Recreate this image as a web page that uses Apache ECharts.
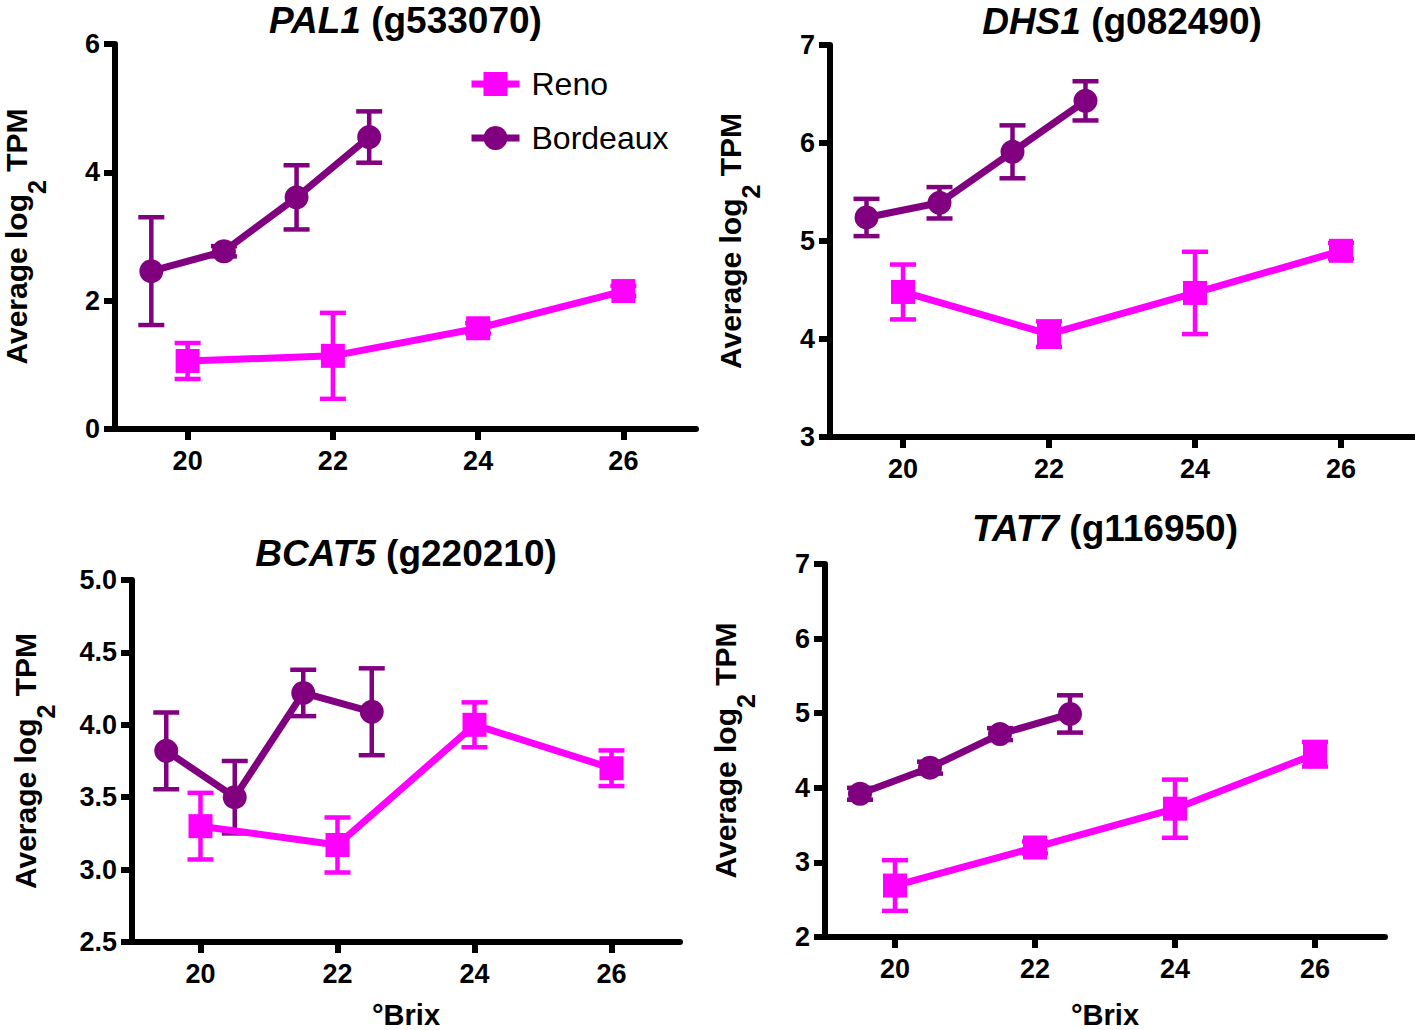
<!DOCTYPE html>
<html><head><meta charset="utf-8">
<script src="https://cdn.jsdelivr.net/npm/echarts@6/dist/echarts.min.js"></script>
<style>html,body{margin:0;padding:0;background:#fff}#c{width:1415px;height:1030px}</style>
</head><body><div id="c"></div>
<script>
const FONT = "'Liberation Sans', Arial, Helvetica, sans-serif";

// ---------- data ----------
const seriesNames = ['Reno', 'Bordeaux'];
const brixReno = [20, 22, 24, 26];
const brixBordeaux = [19.5, 20.5, 21.5, 22.5];
const xTicks = [20, 22, 24, 26];
const xName = '°Brix';
const yName = ['Average log', '2', ' TPM'];

const genes = ['PAL1', 'DHS1', 'BCAT5', 'TAT7'];
const geneIds = ['g533070', 'g082490', 'g220210', 'g116950'];

const pal1Reno = [1.06, 1.14, 1.57, 2.15];
const pal1RenoErr = [0.28, 0.67, 0.08, 0.08];
const pal1Bordeaux = [2.46, 2.77, 3.61, 4.55];
const pal1BordeauxErr = [0.84, 0.08, 0.5, 0.4];

const dhs1Reno = [4.48, 4.05, 4.47, 4.9];
const dhs1RenoErr = [0.28, 0.13, 0.42, 0.08];
const dhs1Bordeaux = [5.24, 5.39, 5.91, 6.43];
const dhs1BordeauxErr = [0.19, 0.16, 0.27, 0.2];

const bcat5Reno = [3.3, 3.17, 4.0, 3.7];
const bcat5RenoErr = [0.23, 0.19, 0.155, 0.123];
const bcat5Bordeaux = [3.82, 3.5, 4.22, 4.09];
const bcat5BordeauxErr = [0.265, 0.25, 0.16, 0.3];

const tat7Reno = [2.69, 3.2, 3.72, 4.45];
const tat7RenoErr = [0.34, 0.08, 0.39, 0.165];
const tat7Bordeaux = [3.92, 4.27, 4.72, 4.99];
const tat7BordeauxErr = [0.08, 0.08, 0.08, 0.25];

const pal1YTicks = [0, 2, 4, 6];
const dhs1YTicks = [3, 4, 5, 6, 7];
const bcat5YTicks = [2.5, 3.0, 3.5, 4.0, 4.5, 5.0];
const tat7YTicks = [2, 3, 4, 5, 6, 7];

// ---------- layout / style ----------
const RENO_COLOR = '#FF00FF';
const BORD_COLOR = '#800080';

const panels = [
  {reno: pal1Reno, renoErr: pal1RenoErr, bord: pal1Bordeaux, bordErr: pal1BordeauxErr, yTicks: pal1YTicks, dec: 0,
   left: 115, top: 44, width: 581, height: 385, titleY: 20, nameGap: 80, showX: false},
  {reno: dhs1Reno, renoErr: dhs1RenoErr, bord: dhs1Bordeaux, bordErr: dhs1BordeauxErr, yTicks: dhs1YTicks, dec: 0,
   left: 830, top: 45, width: 584, height: 392, titleY: 21, nameGap: 81, showX: false},
  {reno: bcat5Reno, renoErr: bcat5RenoErr, bord: bcat5Bordeaux, bordErr: bcat5BordeauxErr, yTicks: bcat5YTicks, dec: 1,
   left: 132, top: 580, width: 548, height: 362, titleY: 553, nameGap: 88, showX: true, xGap: 58},
  {reno: tat7Reno, renoErr: tat7RenoErr, bord: tat7Bordeaux, bordErr: tat7BordeauxErr, yTicks: tat7YTicks, dec: 0,
   left: 825, top: 564, width: 560, height: 373, titleY: 528, nameGap: 81, showX: true, xGap: 63}
];

function errRender(color) {
  return function (params, api) {
    const x = api.value(0), y = api.value(1), e = api.value(2);
    const c = api.coord([x, y]);
    const hi = api.coord([x, y + e]);
    const lo = api.coord([x, y - e]);
    const hw = 13;
    const style = {stroke: color, lineWidth: 4.5, fill: null};
    return {type: 'group', children: [
      {type: 'line', shape: {x1: c[0], y1: hi[1], x2: c[0], y2: lo[1]}, style: style},
      {type: 'line', shape: {x1: c[0] - hw, y1: hi[1], x2: c[0] + hw, y2: hi[1]}, style: style},
      {type: 'line', shape: {x1: c[0] - hw, y1: lo[1], x2: c[0] + hw, y2: lo[1]}, style: style}
    ]};
  };
}

const grid = [], xAxis = [], yAxis = [], series = [], graphic = [];
panels.forEach((p, i) => {
  grid.push({left: p.left, top: p.top, width: p.width, height: p.height, containLabel: false, outerBoundsMode: 'none'});
  xAxis.push({
    type: 'value', gridIndex: i, min: 19, max: 27, interval: 1,
    name: p.showX ? xName : '', nameLocation: 'middle', nameGap: p.xGap || 40, nameMoveOverlap: false,
    nameTextStyle: {fontFamily: FONT, fontSize: 29, fontWeight: 'bold', color: '#000'},
    axisLine: {show: true, onZero: false, lineStyle: {color: '#000', width: 6}},
    axisTick: {show: true, length: 11, lineStyle: {color: '#000', width: 6}, customValues: xTicks},
    axisLabel: {show: true, margin: 18, fontFamily: FONT, fontSize: 27, fontWeight: 'bold', color: '#000', customValues: xTicks},
    splitLine: {show: false}
  });
  const t = p.yTicks;
  yAxis.push({
    type: 'value', gridIndex: i, min: t[0], max: t[t.length - 1], interval: t[1] - t[0],
    name: '{b|' + yName[0] + '}{s|' + yName[1] + '}{b|' + yName[2] + '}',
    nameLocation: 'middle', nameGap: p.nameGap, nameRotate: 90, nameMoveOverlap: false,
    nameTextStyle: {
      fontFamily: FONT, fontSize: 30, fontWeight: 'bold', color: '#000',
      rich: {
        b: {fontFamily: FONT, fontSize: 30, fontWeight: 'bold', color: '#000', lineHeight: 34, verticalAlign: 'top'},
        s: {fontFamily: FONT, fontSize: 25, fontWeight: 'bold', color: '#000', lineHeight: 25, verticalAlign: 'top', padding: [23, 0, 0, 0]}
      }
    },
    axisLine: {show: true, onZero: false, lineStyle: {color: '#000', width: 6}},
    axisTick: {show: true, length: 11, lineStyle: {color: '#000', width: 6}},
    axisLabel: {show: true, margin: 15, fontFamily: FONT, fontSize: 27, fontWeight: 'bold', color: '#000',
      formatter: (v) => v.toFixed(p.dec)},
    splitLine: {show: false}
  });
  const groups = [
    {name: seriesNames[0], xs: brixReno, ys: p.reno, es: p.renoErr, color: RENO_COLOR, symbol: 'rect'},
    {name: seriesNames[1], xs: brixBordeaux, ys: p.bord, es: p.bordErr, color: BORD_COLOR, symbol: 'circle'}
  ];
  groups.forEach(g => {
    series.push({
      type: 'custom', xAxisIndex: i, yAxisIndex: i, z: 2, silent: true,
      renderItem: errRender(g.color),
      encode: {x: 0, y: 1},
      data: g.xs.map((x, k) => [x, g.ys[k], g.es[k]])
    });
  });
  groups.forEach(g => {
    series.push({
      type: 'line', name: g.name, xAxisIndex: i, yAxisIndex: i, z: 3,
      symbol: g.symbol, symbolSize: 24, showSymbol: true,
      lineStyle: {color: g.color, width: 7},
      itemStyle: {color: g.color},
      data: g.xs.map((x, k) => [x, g.ys[k]])
    });
  });
  graphic.push({
    type: 'text', x: p.left + p.width / 2, y: p.titleY,
    style: {
      text: '{i|' + genes[i] + '}{n| (' + geneIds[i] + ')}',
      align: 'center', verticalAlign: 'middle',
      rich: {
        i: {fontFamily: FONT, fontSize: 37, fontWeight: 'bold', fontStyle: 'italic', fill: '#000'},
        n: {fontFamily: FONT, fontSize: 37, fontWeight: 'bold', fill: '#000'}
      }
    }
  });
});

const chart = echarts.init(document.getElementById('c'), null, {renderer: 'svg'});
chart.setOption({
  animation: false,
  backgroundColor: '#fff',
  grid, xAxis, yAxis, series, graphic,
  legend: {
    data: seriesNames, orient: 'vertical', left: 463, top: 63,
    itemWidth: 48, itemHeight: 30, itemGap: 22,
    lineStyle: {width: 7},
    textStyle: {fontFamily: FONT, fontSize: 32, color: '#000', padding: [0, 0, 0, 7]}
  }
});
</script></body></html>
